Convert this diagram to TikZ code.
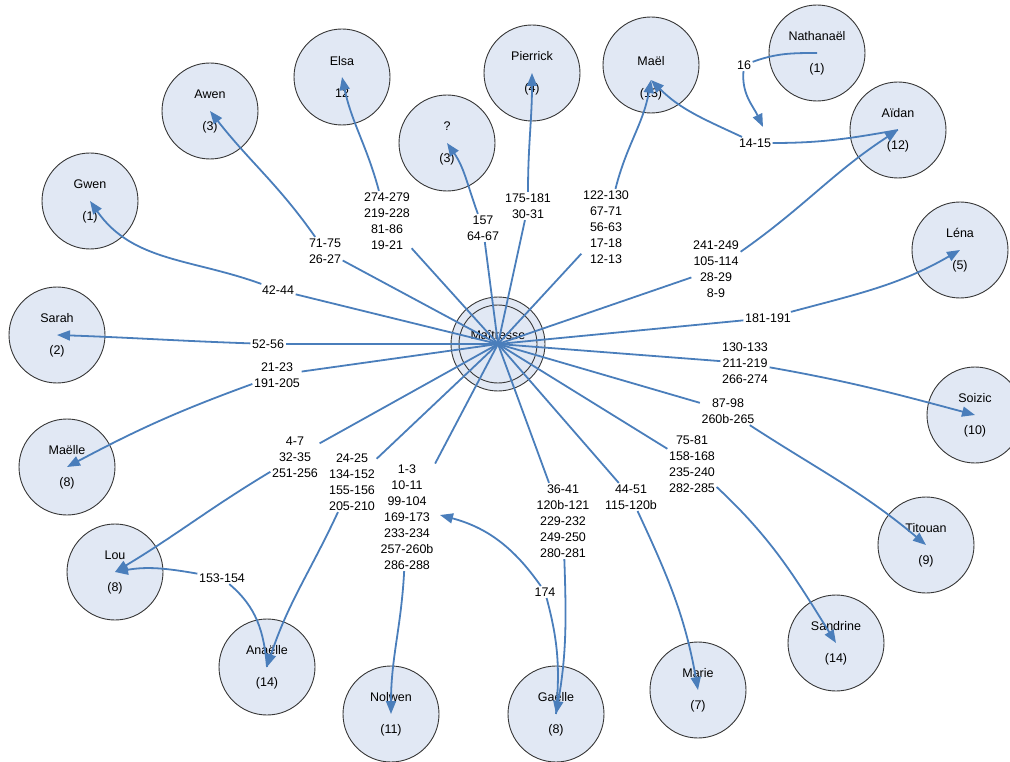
\documentclass[tikz,border=0pt]{standalone}
\usepackage{fontspec}
\setmainfont{Liberation Sans}
\usetikzlibrary{arrows.meta}
\definecolor{cfill}{RGB}{225,232,244}
\definecolor{cline}{RGB}{55,55,55}
\definecolor{lblue}{RGB}{74,126,187}
\tikzset{
  person/.style={circle, draw=cline, line width=0.9pt, fill=cfill, minimum size=96pt,
    inner sep=0pt, align=center, font=\fontsize{12.5}{32}\selectfont},
  lab/.style={inner sep=1.5pt, align=center, font=\fontsize{12.5}{16}\selectfont},
  plainlink/.style={draw=lblue, line width=1.8pt},
  conn/.style={draw=lblue, line width=1.8pt, -{Triangle[length=13pt,width=10pt]}},
}
\begin{document}
\begin{tikzpicture}[x=1pt,y=1pt]
\useasboundingbox (0,0) rectangle (1010,-762);
% ---- persons
\node[person, minimum size=94pt] (M) at (498,-344) {\raisebox{4.5pt}[0pt][0pt]{Maîtresse}};
\draw[cline, line width=0.9pt] (M.center) circle[radius=39];
\node[person] (Gwen) at (90,-201) {Gwen\\(1)};
\node[person] (Awen) at (210,-111) {Awen\\(3)};
\node[person] (Elsa) at (342,-77) {Elsa\\12};
\node[person] (Q) at (447,-143) {?\\(3)};
\node[person] (Pierrick) at (532,-73) {Pierrick\\(4)};
\node[person] (Mael) at (651,-65) {\mbox{}\\[3pt]Maël\\(13)};
\node[person] (Nathanael) at (817,-53) {Nathanaël\\(1)};
\node[person] (Aidan) at (898,-130) {Aïdan\\(12)};
\node[person] (Lena) at (960,-250) {Léna\\(5)};
\node[person] (Soizic) at (975,-415) {Soizic\\(10)};
\node[person] (Titouan) at (926,-545) {Titouan\\(9)};
\node[person] (Sandrine) at (836,-643) {Sandrine\\(14)};
\node[person] (Marie) at (698,-690) {Marie\\(7)};
\node[person] (Gaelle) at (556,-714) {Gaëlle\\(8)};
\node[person] (Nolwen) at (391,-714) {Nolwen\\(11)};
\node[person] (Anaelle) at (267,-667) {Anaëlle\\(14)};
\node[person] (Lou) at (115,-572) {Lou\\(8)};
\node[person] (Maelle) at (67,-467) {Maëlle\\(8)};
\node[person] (Sarah) at (57,-335) {Sarah\\(2)};
% ---- labels
\node[lab] (l1) at (278,-290) {42-44};
\node[lab] (l2) at (325,-251) {71-75\\26-27};
\node[lab] (l3) at (387,-221) {274-279\\219-228\\81-86\\19-21};
\node[lab] (l4) at (483,-228) {157\\64-67};
\node[lab] (l5) at (528,-206) {175-181\\30-31};
\node[lab] (l6) at (606,-227) {122-130\\67-71\\56-63\\17-18\\12-13};
\node[lab] (l7) at (716,-269) {241-249\\105-114\\28-29\\8-9};
\node[lab] (l8) at (768,-318) {181-191};
\node[lab] (l9) at (745,-363) {130-133\\211-219\\266-274};
\node[lab] (l10) at (728,-411) {87-98\\260b-265};
\node[lab] (l11) at (692,-464) {75-81\\158-168\\235-240\\282-285};
\node[lab] (l12) at (631,-497) {44-51\\115-120b};
\node[lab] (l13) at (563,-521) {36-41\\120b-121\\229-232\\249-250\\280-281};
\node[lab] (l14) at (545,-592) {174};
\node[lab] (l15) at (407,-517) {1-3\\10-11\\99-104\\169-173\\233-234\\257-260b\\286-288};
\node[lab] (l16) at (352,-482) {24-25\\134-152\\155-156\\205-210};
\node[lab] (l17) at (295,-457) {4-7\\32-35\\251-256};
\node[lab] (l18) at (222,-578) {153-154};
\node[lab] (l19) at (277,-375) {21-23\\191-205};
\node[lab] (l20) at (268,-344) {52-56};
\node[lab] (l21) at (744,-65) {16};
\node[lab] (l22) at (755,-143) {14-15};
\coordinate (t174) at (440,-515);
\coordinate (t16) at (763,-127);
% ---- connectors from Maîtresse
\draw[plainlink] (M.center) -- (l1);  \draw[conn] (l1) to[out=160,in=-55] (Gwen.center);
\draw[plainlink] (M.center) -- (l2);  \draw[conn] (l2) to[out=125,in=-52] (Awen.center);
\draw[plainlink] (M.center) -- (l3);  \draw[conn] (l3) to[out=105,in=-78] (Elsa.center);
\draw[plainlink] (M.center) -- (l4);  \draw[conn] (l4) to[out=110,in=-55] (Q.center);
\draw[plainlink] (M.center) -- (l5);  \draw[conn] (l5) to[out=90,in=-90] (Pierrick.center);
\draw[plainlink] (M.center) -- (l6);  \draw[conn] (l6) to[out=76,in=-100] ([yshift=-15pt]Mael.center);
\draw[plainlink] (M.center) -- (l7);  \draw[conn] (l7) to[out=35,in=-147] (Aidan.center);
\draw[plainlink] (M.center) -- (l8);  \draw[conn] (l8) to[out=15,in=-150] (Lena.center);
\draw[plainlink] (M.center) -- (l9);  \draw[conn] (l9) to[out=-10,in=165] (Soizic.center);
\draw[plainlink] (M.center) -- (l10); \draw[conn] (l10) to[out=-33,in=140] (Titouan.center);
\draw[plainlink] (M.center) -- (l11); \draw[conn] (l11) to[out=-43,in=122] (Sandrine.center);
\draw[plainlink] (M.center) -- (l12); \draw[conn] (l12) to[out=-65,in=100] (Marie.center);
\draw[plainlink] (M.center) -- (l13); \draw[conn] (l13) to[out=-88,in=80] (Gaelle.center);
\draw[plainlink] (M.center) -- (l15); \draw[conn] (l15) to[out=-93,in=90] (Nolwen.center);
\draw[plainlink] (M.center) -- (l16); \draw[conn] (l16) to[out=-115,in=72] (Anaelle.center);
\draw[plainlink] (M.center) -- (l17); \draw[conn] (l17) to[out=-149,in=31] (Lou.center);
\draw[plainlink] (M.center) -- (l19); \draw[conn] (l19) to[out=200,in=28] (Maelle.center);
\draw[plainlink] (M.center) -- (l20); \draw[conn] (l20) to[out=178,in=-2] (Sarah.center);
% ---- other links
\draw[plainlink] (Gaelle.center) to[out=85,in=-75] (l14);
\draw[conn] (l14) to[out=125,in=-15] (t174);
\draw[plainlink] (Nathanael.center) to[out=180,in=20] (l21);
\draw[conn] (l21) to[out=-95,in=115] (t16);
\draw[plainlink] (Aidan.center) to[out=190,in=0] (l22);
\draw[conn] (l22) to[out=155,in=-45] ([yshift=-15pt]Mael.center);
\draw[plainlink] (Anaelle.center) to[out=95,in=-40] (l18);
\draw[conn] (l18) to[out=170,in=10] (Lou.center);
\end{tikzpicture}
\end{document}
